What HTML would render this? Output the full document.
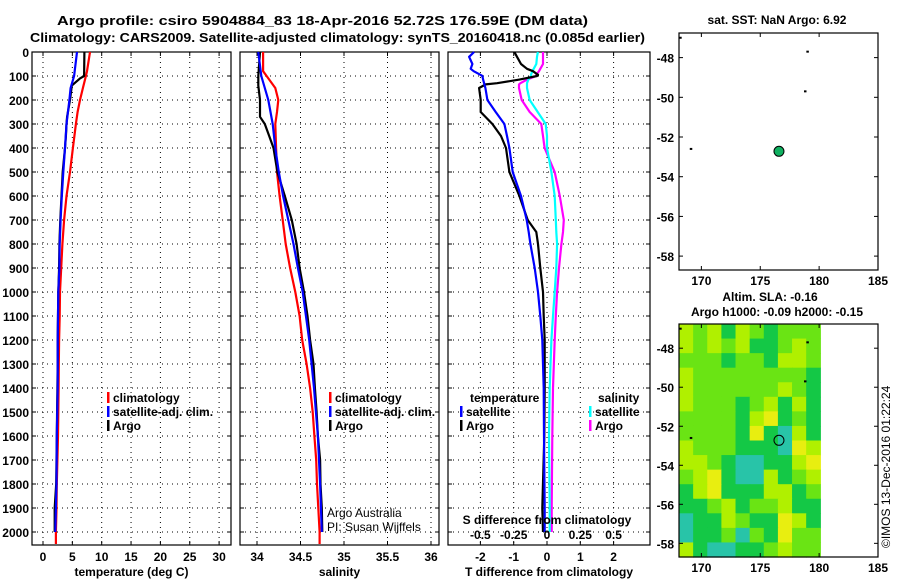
<!DOCTYPE html>
<html><head><meta charset="utf-8">
<style>
html,body{margin:0;padding:0;background:#fff;}
svg{display:block;font-family:"Liberation Sans",Arial,sans-serif;}
</style></head>
<body>
<svg id="fig" width="900" height="580" viewBox="0 0 900 580" xmlns="http://www.w3.org/2000/svg">
<g font-weight="bold" font-size="13" fill="#000">
<text x="57" y="25" textLength="531" lengthAdjust="spacingAndGlyphs">Argo profile: csiro 5904884_83 18-Apr-2016 52.72S 176.59E (DM data)</text>
<text x="30" y="42" textLength="615" lengthAdjust="spacingAndGlyphs">Climatology: CARS2009. Satellite-adjusted climatology: synTS_20160418.nc (0.085d earlier)</text>
<text x="777" y="24" text-anchor="middle" font-size="12">sat. SST: NaN Argo: 6.92</text>
<text x="770" y="301" text-anchor="middle" font-size="12">Altim. SLA: -0.16</text>
<text x="777" y="316" text-anchor="middle" font-size="12">Argo h1000: -0.09 h2000: -0.15</text>
</g>
<text x="0" y="0" font-size="12" transform="translate(890,548) rotate(-90)">©IMOS 13-Dec-2016 01:22:24</text>
<g id="plots"></g>
</svg>
<script>
// ---- data ----
const depthTicks = [0,100,200,300,400,500,600,700,800,900,1000,1100,1200,1300,1400,1500,1600,1700,1800,1900,2000];
const tempTicks = [0,5,10,15,20,25,30];
const salTicks = [34,34.5,35,35.5,36];
const salTickLabels = ["34","34.5","35","35.5","36"];
const dTTicks = [-2,-1,0,1,2];
const dSTicks = [-0.5,-0.25,0,0.25,0.5];
const dSTickLabels = ["-0.5","-0.25","0","0.25","0.5"];

const climDepth = [0,80,100,150,200,250,300,400,500,600,700,800,900,1000,1100,1200,1300,1400,1500,1600,1700,1800,1900,2000,2050];
const climTemp  = [8.0,7.5,7.3,6.8,6.3,5.9,5.6,5.1,4.6,4.0,3.6,3.3,3.1,2.9,2.85,2.75,2.7,2.65,2.6,2.55,2.45,2.35,2.3,2.2,2.2];
const climSal   = [34.07,34.07,34.11,34.21,34.245,34.23,34.21,34.22,34.23,34.26,34.295,34.33,34.38,34.44,34.49,34.52,34.57,34.61,34.64,34.66,34.68,34.69,34.705,34.72,34.72];

const satDepth = [0,100,150,200,300,400,500,600,700,800,900,1000,1200,1400,1600,1800,2000];
const satTemp  = [5.8,5.3,4.7,4.5,4.0,3.75,3.45,3.2,3.0,2.85,2.8,2.6,2.5,2.5,2.35,2.3,2.1];
const satSal   = [34.015,34.05,34.09,34.13,34.18,34.21,34.25,34.30,34.36,34.42,34.47,34.525,34.60,34.655,34.70,34.725,34.745];

const argoDepth = [0,100,110,140,200,270,300,350,400,500,600,700,800,900,1000,1100,1200,1300,1400,1500,1600,1700,1800,1900,2000];
const argoTemp  = [7.05,7.0,6.3,4.9,4.6,4.1,4.0,3.9,3.75,3.35,3.15,2.95,2.8,2.75,2.6,2.55,2.5,2.5,2.45,2.4,2.35,2.3,2.25,2.0,2.0];
const argoSal   = [34.035,34.015,34.015,34.015,34.035,34.035,34.09,34.14,34.19,34.235,34.32,34.40,34.455,34.49,34.54,34.58,34.61,34.65,34.665,34.685,34.70,34.725,34.73,34.745,34.75];

const dDepth = [0,20,50,70,80,95,100,115,130,135,150,200,250,300,350,400,500,600,700,750,800,900,1000,1100,1200,1400,1600,1900,2000];
const dTsat  = [-2.19,-2.34,-2.24,-2.29,-2.2,-2.0,-1.94,-1.92,-1.89,-1.88,-1.85,-1.79,-1.54,-1.28,-1.2,-1.13,-1.03,-0.78,-0.61,-0.55,-0.5,-0.37,-0.27,-0.2,-0.14,-0.1,-0.09,-0.07,-0.07];
const dTargo = [-0.98,-0.9,-0.78,-0.6,-0.42,-0.27,-0.3,-0.83,-1.5,-1.84,-2.04,-1.99,-1.99,-1.64,-1.38,-1.23,-1.13,-0.83,-0.58,-0.32,-0.27,-0.2,-0.12,-0.1,-0.07,-0.07,-0.08,-0.14,-0.12];
const dSsat  = [-0.068,-0.075,-0.08,-0.1,-0.11,-0.12,-0.12,-0.14,-0.15,-0.15,-0.15,-0.13,-0.07,-0.01,0,0,0.033,0.058,0.066,0.07,0.076,0.07,0.058,0.045,0.033,0.02,0.015,0.02,0.02];
const dSargo = [-0.03,-0.03,-0.03,-0.05,-0.06,-0.08,-0.08,-0.15,-0.2,-0.21,-0.21,-0.19,-0.13,-0.043,-0.03,-0.018,0.058,0.096,0.126,0.12,0.108,0.09,0.076,0.066,0.058,0.045,0.04,0.035,0.035];

const lonTicks = [170,175,180,185];
const latTicks = [-48,-50,-52,-54,-56,-58];
const floatLon = 176.59, floatLat = -52.72;
const otherLon = [169.1,178.8,179.0,168.2];
const otherLat = [-52.6,-49.7,-47.7,-47.0];
const slaGrid = [
[3,2,3,1,3,2,1,2,2,2],
[3,2,3,2,3,1,1,2,3,2],
[2,2,2,1,2,2,1,3,3,2],
[3,2,2,2,2,2,2,2,2,1],
[3,2,2,2,2,2,2,3,2,1],
[3,2,2,2,1,2,3,1,3,1],
[2,2,2,2,1,3,4,1,2,1],
[2,2,2,2,1,4,1,0,3,1],
[3,2,2,2,1,1,1,0,4,3],
[3,3,2,1,0,0,1,1,3,4],
[2,3,4,1,0,0,3,1,2,3],
[1,3,4,1,1,1,3,3,1,2],
[1,1,2,3,1,2,2,3,1,1],
[0,1,1,3,2,1,1,4,3,1],
[0,1,1,2,0,2,1,4,2,2],
[3,1,0,0,1,1,2,3,2,2]];
const slaColors = ["#28c4a8","#14c846","#6ae414","#b0f000","#e8ee10"];

// ---- helpers ----
const NS="http://www.w3.org/2000/svg";
const root=document.getElementById('plots');
function el(tag,attrs,parent){const e=document.createElementNS(NS,tag);for(const k in attrs)e.setAttribute(k,attrs[k]);(parent||root).appendChild(e);return e;}
function txt(x,y,s,anchor,parent,size,weight){const t=el('text',{x:x,y:y,'text-anchor':anchor||'middle','font-size':size||12,'font-weight':weight||'bold'},parent);t.textContent=s;return t;}
const Y0=52, Y1=545;
const yD = d => Y0 + d*0.24;

function panel(name,x0,x1,xs,ticks,labels,title){
  const g=el('g',{});
  
  
  depthTicks.forEach(d=>{el('line',{x1:x0,x2:x1,y1:yD(d),y2:yD(d),stroke:'#000','stroke-width':1,'stroke-dasharray':'1,4'},g);});
  ticks.forEach(v=>{el('line',{x1:xs(v),x2:xs(v),y1:Y0,y2:Y1,stroke:'#000','stroke-width':1,'stroke-dasharray':'1,4'},g);
    el('line',{x1:xs(v),x2:xs(v),y1:Y1,y2:Y1-4,stroke:'#000'},g);el('line',{x1:xs(v),x2:xs(v),y1:Y0,y2:Y0+4,stroke:'#000'},g);});
  depthTicks.forEach(d=>{el('line',{x1:x0,x2:x0+4,y1:yD(d),y2:yD(d),stroke:'#000'},g);el('line',{x1:x1,x2:x1-4,y1:yD(d),y2:yD(d),stroke:'#000'},g);});
  el('rect',{x:x0,y:Y0,width:x1-x0,height:Y1-Y0,fill:'none',stroke:'#000','stroke-width':1.2},g);
  ticks.forEach((v,i)=>{const t=txt(xs(v),561,labels?labels[i]:String(v),'middle',g);
    
    });
  const at=txt((x0+x1)/2,576,title,'middle',g);
  
  
  return g;
}
function line(g,xs,vals,depths,color,name,w){
  const pts=vals.map((v,i)=>xs(v).toFixed(1)+','+yD(depths[i]).toFixed(1)).join(' ');
  const p=el('polyline',{points:pts,fill:'none',stroke:color,'stroke-width':w||2.2,'stroke-linejoin':'round'},g);
  
  
}
function legend(g,x,y,color,label){
  el('rect',{x:x,y:y-10,width:2.5,height:11,fill:color},g);
  const t=txt(x+6,y,label,'start',g);
  
  
}

depthTicks.forEach(d=>{const t=txt(29,yD(d)+5,String(d),'end');
  
  });

const xT=v=>43+v*5.87;
const g1=panel('temperature-panel',32,231,xT,tempTicks,null,'temperature (deg C)');
line(g1,xT,climTemp,climDepth,'#f00','temp-climatology-line');
line(g1,xT,argoTemp,argoDepth,'#000','temp-argo-line');
line(g1,xT,satTemp,satDepth,'#00f','temp-satellite-line');
legend(g1,107,402,'#f00','climatology');
legend(g1,107,416,'#00f','satellite-adj. clim.');
legend(g1,107,430,'#000','Argo');

const xS=v=>257+(v-34)*87;
const g2=panel('salinity-panel',240,439,xS,salTicks,salTickLabels,'salinity');
line(g2,xS,climSal,climDepth,'#f00','sal-climatology-line');
line(g2,xS,argoSal,argoDepth,'#000','sal-argo-line');
line(g2,xS,satSal,satDepth,'#00f','sal-satellite-line');
legend(g2,329,402,'#f00','climatology');
legend(g2,329,416,'#00f','satellite-adj. clim.');
legend(g2,329,430,'#000','Argo');
const c1=txt(327,517,'Argo Australia','start',g2,12,'normal');


const c2=txt(327,531,'PI: Susan Wijffels','start',g2,12,'normal');



const xdT=v=>547+v*33.3;
const xdS=v=>547+v*133.2;
const g3=panel('difference-panel',448,650,xdT,dTTicks,null,'T difference from climatology');
line(g3,xdS,dSargo,dDepth,'#f0f','sdiff-argo-line');
line(g3,xdS,dSsat,dDepth,'#0ff','sdiff-satellite-line');
line(g3,xdT,dTargo,dDepth,'#000','tdiff-argo-line');
line(g3,xdT,dTsat,dDepth,'#00f','tdiff-satellite-line');
const lt=txt(470,402,'temperature','start',g3);


legend(g3,460,416,'#00f','satellite');
legend(g3,460,430,'#000','Argo');
const ls=txt(598,402,'salinity','start',g3);


legend(g3,589,416,'#0ff','satellite');
legend(g3,589,430,'#f0f','Argo');
const st=txt(547,524,'S difference from climatology','middle',g3);


dSTicks.forEach((v,i)=>{const t=txt(xdS(v),539,dSTickLabels[i],'middle',g3);
  
  });

const LON0=168.1, LON1=185, LAT0=-46.76, LAT1=-58.7;
function map(name,top,bottom,heat){
  const g=el('g',{});
  
  
  const X0=679,X1=878;
  const mx=v=>X0+(v-LON0)/(LON1-LON0)*(X1-X0);
  const my=v=>top+(v-LAT0)/(LAT1-LAT0)*(bottom-top);
  if(heat){
    const rows=slaGrid.length, cols=slaGrid[0].length;
    const hx0=mx(168.1), hx1=mx(180.1), hy0=top, hy1=bottom;
    const cw=(hx1-hx0)/cols, ch=(hy1-hy0)/rows;
    slaGrid.forEach((row,r)=>row.forEach((v,c)=>{
      const cell=el('rect',{x:(hx0+c*cw).toFixed(2),y:(hy0+r*ch).toFixed(2),width:(cw+0.6).toFixed(2),height:(ch+0.6).toFixed(2),fill:slaColors[v]},g);
      
      
    }));
  }
  el('rect',{x:X0,y:top,width:X1-X0,height:bottom-top,fill:'none',stroke:'#000','stroke-width':1.2},g);
  lonTicks.forEach(v=>{el('line',{x1:mx(v),x2:mx(v),y1:bottom,y2:bottom-4,stroke:'#000'},g);el('line',{x1:mx(v),x2:mx(v),y1:top,y2:top+4,stroke:'#000'},g);
    const t=txt(mx(v),bottom+15,String(v),'middle',g);
    
    });
  latTicks.forEach(v=>{el('line',{x1:X0,x2:X0+4,y1:my(v),y2:my(v),stroke:'#000'},g);el('line',{x1:X1,x2:X1-4,y1:my(v),y2:my(v),stroke:'#000'},g);
    const t=txt(X0-5,my(v)+5,String(v),'end',g);
    
    });
  otherLon.forEach((v,i)=>{const d=el('rect',{x:mx(v)-1,y:my(otherLat[i])-1,width:2.5,height:2,fill:'#000'},g);
    
    });
  const m=el('circle',{cx:mx(floatLon),cy:my(floatLat),r:5,fill:heat?'none':'#10b060',stroke:'#000','stroke-width':1},g);
  
  
}
map('sst-map',33,270,false);
map('sla-map',324,557,true);
</script>
</body></html>
